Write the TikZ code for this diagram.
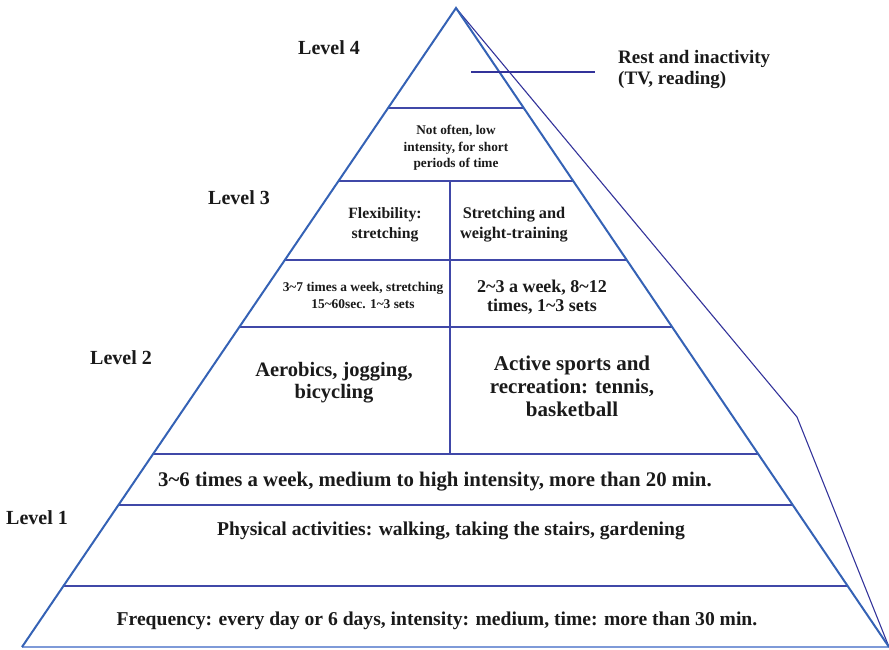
\documentclass[tikz,border=0pt]{standalone}
\usepackage{fontspec}
\setmainfont{Liberation Serif}
\usetikzlibrary{calc}
\definecolor{edgeblue}{HTML}{3562B5}
\definecolor{lineblue}{HTML}{4048A8}
\definecolor{sideblue}{HTML}{33339A}
\definecolor{baseblue}{HTML}{7E9AD8}
\definecolor{ink}{HTML}{1A1A1A}
\tikzset{
  edge/.style={draw=edgeblue, line width=2pt, line join=miter},
  tier/.style={draw=lineblue, line width=1.4pt},
  side/.style={draw=sideblue, line width=1.1pt},
  lbl/.style={text=ink, font=\bfseries\fontsize{20}{20}\selectfont, inner sep=0pt, align=center},
  txt/.style 2 args={text=ink, font=\bfseries\fontsize{#1}{#2}\selectfont, inner sep=0pt, align=center},
}
\begin{document}
\begin{tikzpicture}[x=1pt,y=-1pt]
\useasboundingbox (0,0) rectangle (889,649);
\coordinate (apex) at (456,8);
\coordinate (bl) at (22,647);
\coordinate (br) at (889,647);
\coordinate (sc) at (797,417);
\coordinate (ra) at (471,72);
\coordinate (rb) at (595,72);
% tier lines
\foreach \yy/\nm in {108/a,181/b,260/c,327/d,454/e,505/f,586/g}{
  \coordinate (L\nm) at ($(apex)!{(\yy-8)/639}!(bl)$);
  \coordinate (R\nm) at ($(apex)!{(\yy-8)/639}!(br)$);
  \draw[tier] (L\nm) -- (R\nm);
}
\coordinate (dtop) at (450,181);
\coordinate (dbot) at (450,454);
\draw[tier] (dtop) -- (dbot);
\draw[side] (apex) -- (sc) -- (br);
\draw[draw=baseblue, line width=1.4pt] (bl) -- (br);
\draw[edge] (bl) -- (apex) -- (br);
\draw[draw=sideblue, line width=1.2pt] (ra) -- (rb);
% labels
\node[lbl] (lv4) at (329,48) {Level 4};
\node[lbl] (lv3) at (239,198) {Level 3};
\node[lbl] (lv2) at (121,358) {Level 2};
\node[lbl] (lv1) at (37,518) {Level 1};
\node[txt={19}{21}, anchor=west, align=left] (rest) at (618,69) {Rest and inactivity\\(TV, reading)};
\node[txt={13.3}{16.5}] (t4) at (456,148) {Not often, low\\intensity, for short\\periods of time};
\node[txt={15.7}{20}] (flex) at (385,225) {Flexibility:\\stretching};
\node[txt={16.3}{20}] (swt) at (514,225) {Stretching and\\weight-training};
\node[txt={13.4}{17}] (f37) at (363,295) {3\char`~7 times a week, stretching\\15\char`~60sec. 1\char`~3 sets};
\node[txt={18}{19}] (f23) at (542,297) {2\char`~3 a week, 8\char`~12\\times, 1\char`~3 sets};
\node[txt={20.5}{22}] (aer) at (334,383) {Aerobics, jogging,\\bicycling};
\node[txt={21}{23}] (act) at (572,386) {Active sports and\\recreation: tennis,\\basketball};
\node[txt={20.8}{20}] (f36) at (435,482) {3\char`~6 times a week, medium to high intensity, more than 20 min.};
\node[txt={19.6}{20}] (phy) at (451,531) {Physical activities: walking, taking the stairs, gardening};
\node[txt={19.6}{20}] (frq) at (437,621) {Frequency: every day or 6 days, intensity: medium, time: more than 30 min.};
\end{tikzpicture}
\end{document}
